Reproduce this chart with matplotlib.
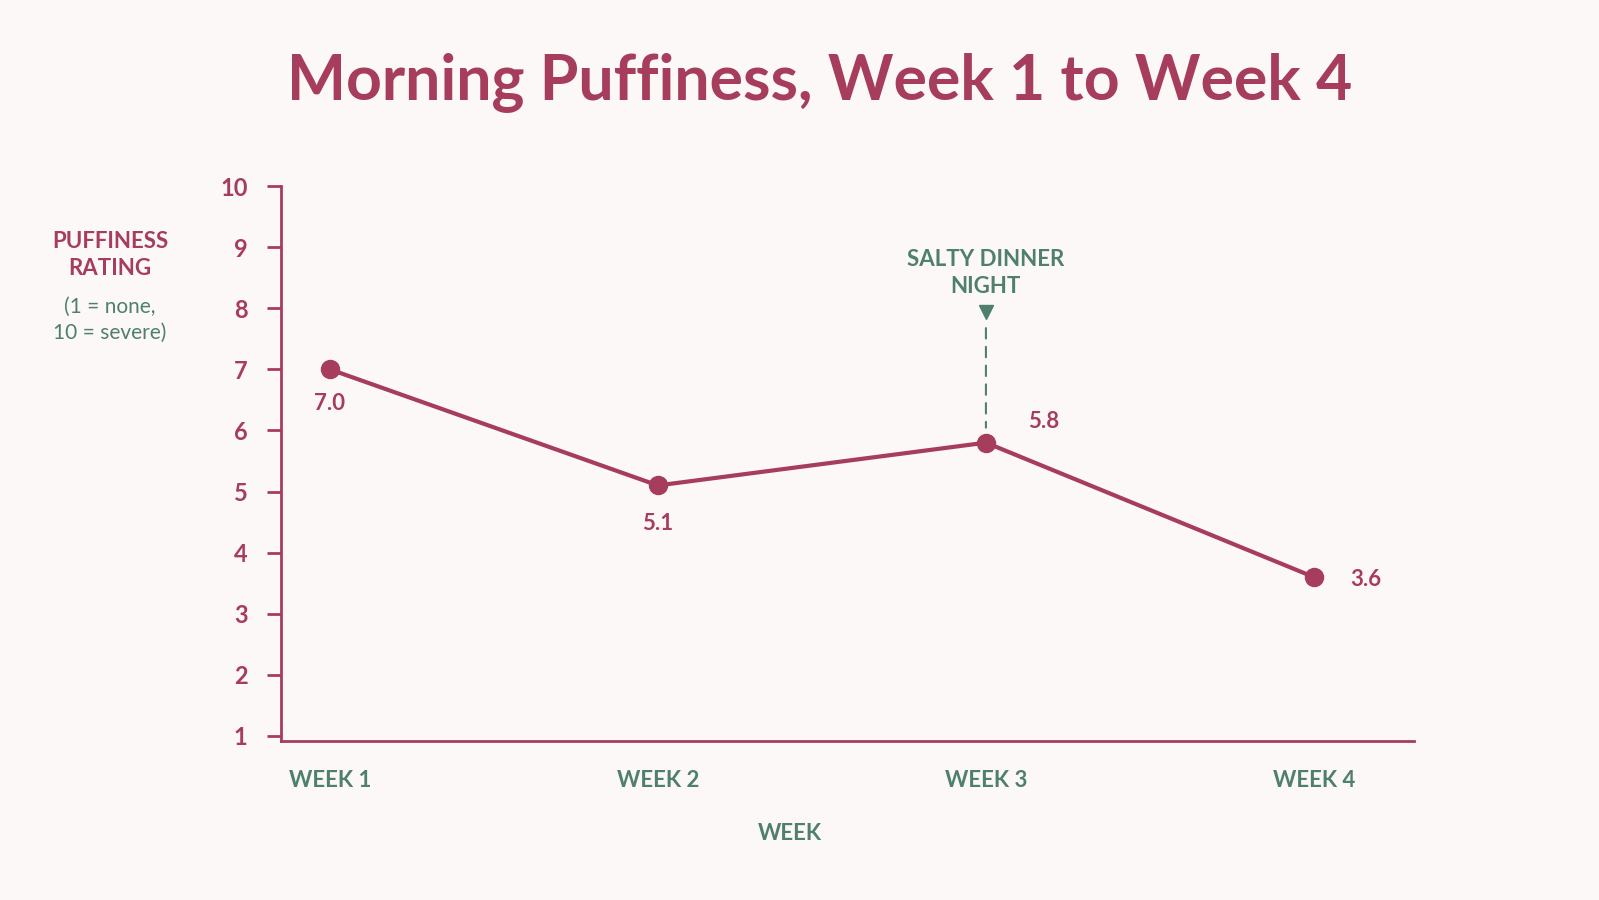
import matplotlib
matplotlib.use("Agg")
import matplotlib.pyplot as plt

weeks = ["WEEK 1", "WEEK 2", "WEEK 3", "WEEK 4"]
puffiness = [7.0, 5.1, 5.8, 3.6]
y_ticks = [1, 2, 3, 4, 5, 6, 7, 8, 9, 10]
annot_week = 2  # index of "SALTY DINNER NIGHT"
annot_text = "SALTY DINNER\nNIGHT"

CRIMSON = "#A63D5C"
GREEN = "#4F7F6E"
BG = "#FCF8F7"

plt.rcParams["font.family"] = ["Lato", "DejaVu Sans"]

fig = plt.figure(figsize=(15.99, 9.0), dpi=100, facecolor=BG)
ax = fig.add_axes([281/1599, 1-741/900, (1414-281)/1599, (741-186)/900])
ax.set_facecolor(BG)

x = list(range(len(weeks)))
ax.plot(x, puffiness, color=CRIMSON, lw=3, marker="o", ms=13, zorder=3,
        solid_capstyle="round")

ax.set_ylim(0.918, 10)
ax.set_xlim(-0.149, 3.305)
ax.set_yticks(y_ticks)
ax.set_yticklabels([str(t) for t in y_ticks])
ax.set_xticks(x)
ax.set_xticklabels(weeks)

for s in ["top", "right"]:
    ax.spines[s].set_visible(False)
for s in ["left", "bottom"]:
    ax.spines[s].set_color(CRIMSON)
    ax.spines[s].set_linewidth(2)
ax.spines["left"].set_bounds(0.918, 10)

ax.tick_params(axis="y", length=10, width=2, color=CRIMSON, pad=14,
               labelcolor=CRIMSON, labelsize=17)
for lab in ax.get_yticklabels():
    lab.set_fontweight("bold")
ax.tick_params(axis="x", length=0, pad=21, labelcolor=GREEN, labelsize=16)
for lab in ax.get_xticklabels():
    lab.set_fontweight("bold")

# data labels
offsets = [(0, -17, "center", "top"), (0, -20, "center", "top"),
           (30, 8, "left", "bottom"), (26, -2, "left", "center")]
for xi, v, (dx, dy, ha, va) in zip(x, puffiness, offsets):
    ax.annotate(f"{v:.1f}", (xi, v), xytext=(dx, dy), textcoords="offset points",
                ha=ha, va=va, color=CRIMSON, fontsize=16, fontweight="bold")

# annotation
ya = puffiness[annot_week]
ax.annotate("", xy=(annot_week, ya + 0.2), xytext=(annot_week, 7.72),
            arrowprops=dict(arrowstyle="-", color=GREEN, lw=1.5, ls=(0, (5, 4))))
ax.plot([annot_week], [7.93], marker="v", color=GREEN, ms=10, zorder=4)
ax.text(annot_week, 8.19, annot_text, ha="center", va="bottom", color=GREEN,
        fontsize=16, fontweight="bold", linespacing=1.35)

# titles
fig.text(820/1599, 1-82/900, "Morning Puffiness, Week 1 to Week 4", ha="center",
         va="center", color=CRIMSON, fontsize=45, fontweight="bold")
fig.text(110/1599, 1-255/900, "PUFFINESS\nRATING", ha="center", va="center",
         color=CRIMSON, fontsize=16, fontweight="bold", linespacing=1.35)
fig.text(110/1599, 1-320/900, "(1 = none,\n10 = severe)", ha="center", va="center",
         color=GREEN, fontsize=15, linespacing=1.35)
fig.text(790/1599, 1-834/900, "WEEK", ha="center", va="center",
         color=GREEN, fontsize=16, fontweight="bold")

fig.savefig("out.png", dpi=100, facecolor=BG)
